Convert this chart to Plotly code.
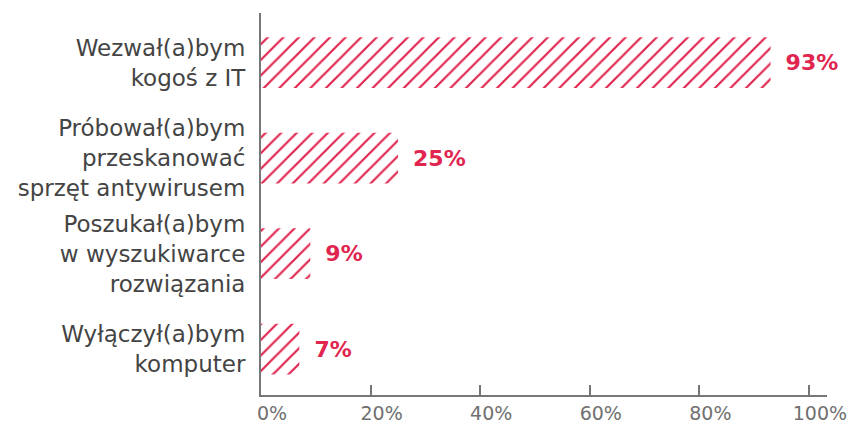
import plotly.graph_objects as go

categories = [
    "Wezwał(a)bym<br>kogoś z IT",
    "Próbował(a)bym<br>przeskanować<br>sprzęt antywirusem",
    "Poszukał(a)bym<br>w wyszukiwarce<br>rozwiązania",
    "Wyłączył(a)bym<br>komputer",
]
values = [93, 25, 9, 7]
tick_vals = [0, 20, 40, 60, 80, 100]
tick_text = ["0%", "20%", "40%", "60%", "80%", "100%"]

RED = "#E0254F"
GRAY = "#777777"
FONT = "DejaVu Sans"

fig = go.Figure(go.Bar(
    y=categories,
    x=values,
    orientation="h",
    width=0.53,
    marker=dict(
        color="white",
        line=dict(width=0),
        pattern=dict(shape="/", fgcolor=RED, bgcolor="white", fgopacity=1,
                     size=11, solidity=0.2),
    ),
    text=[" \u2009%d%%" % v for v in values],
    textposition="outside",
    textfont=dict(family=FONT, size=22, color=RED, weight=600),
    constraintext="none",
    cliponaxis=False,
    hoverinfo="skip",
))

fig.update_layout(
    width=863,
    height=424,
    margin=dict(l=261, r=36, t=13, b=29, autoexpand=False),
    paper_bgcolor="white",
    plot_bgcolor="white",
    showlegend=False,
    font=dict(family=FONT, color="#444444"),
    xaxis=dict(
        range=[0, 103.3],
        tickvals=tick_vals,
        ticktext=tick_text,
        ticks="inside",
        ticklen=10,
        tickwidth=2,
        tickcolor=GRAY,
        showline=True,
        linecolor=GRAY,
        linewidth=2,
        showgrid=False,
        zeroline=False,
        automargin=False,
        ticklabelshift=11,
        tickfont=dict(family=FONT, size=19, color="#707070", weight=400),
    ),
    yaxis=dict(
        categoryorder="array",
        categoryarray=categories,
        range=[3.48, -0.52],
        showline=True,
        linecolor=GRAY,
        linewidth=2,
        showgrid=False,
        zeroline=False,
        automargin=False,
        ticks="",
        ticklabelstandoff=9,
        tickfont=dict(family=FONT, size=23, color="#444444", weight=400),
    ),
)

fig.write_html("out.html", config={"displayModeBar": False},
               post_script="document.body.style.margin='0';")
